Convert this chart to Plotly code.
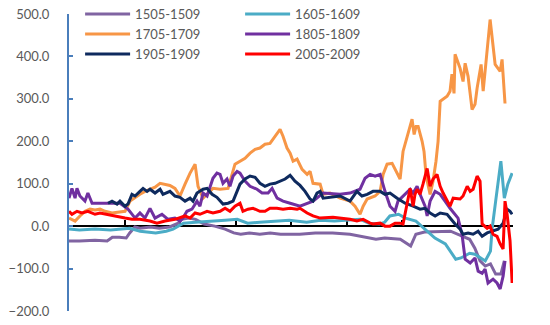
import plotly.graph_objects as go

# Weekly index (0-256) and cumulative change for each five-year window
weeks_1505 = [0, 6, 15, 22, 25, 29, 33, 35, 38, 41, 47, 52, 58, 63, 65, 69, 73, 78, 84, 90, 95, 99,
              104, 110, 116, 122, 127, 133, 142, 152, 162, 169, 177, 182, 191, 197, 200, 205, 214,
              220, 227, 231, 234, 237, 240, 243, 246, 249, 251]
vals_1505 = [-35, -35, -33, -35, -26, -26, -28, -16, -2, -5, -2, -5, -2, 7, 16, 19, 16, 5, 0, -7, -16,
             -19, -16, -19, -16, -19, -19, -19, -16, -16, -19, -24, -31, -28, -31, -47, -19, -14, -12,
             -12, -24, -31, -52, -82, -94, -89, -113, -113, -82]

weeks_1605 = [0, 6, 15, 24, 35, 41, 50, 56, 60, 66, 73, 81, 90, 97, 103, 110, 120, 127, 137, 145,
              153, 162, 168, 173, 179, 182, 185, 190, 194, 200, 205, 211, 217, 220, 223, 226, 231,
              234, 237, 240, 243, 244, 246, 249, 251, 253, 255.5]
vals_1605 = [-7, -9, -7, -9, -5, -12, -16, -12, -7, 7, 9, 12, 14, 16, 7, 9, 12, 14, 9, 14, 12, 14, 16,
             7, 5, 9, 24, 28, 19, 12, -7, -28, -42, -59, -78, -75, -64, -66, -75, -82, -59, -5, 59,
             153, 66, 99, 125]

weeks_1705 = [0, 3.5, 6.3, 9.2, 12.1, 15, 17.9, 20.8, 24.8, 29.4, 32.3, 35.2, 38.1, 40.9, 43.8, 46.7,
              49.6, 52.5, 55.4, 58.2, 61.1, 64, 66.9, 69.8, 72.7, 74.4, 77.3, 79.6, 83, 87.1, 91.7,
              95.7, 98.6, 101.5, 104.4, 107.3, 110.1, 113, 115.9, 118.8, 120.5, 121.7, 123.4, 125.7,
              127.5, 129.2, 131.5, 134.4, 137.3, 139, 140.7, 144.8, 146.5, 150.5, 156.3, 162, 164.9,
              167.8, 169.6, 171.9, 176.5, 179.4, 181.1, 183.4, 186.3, 189.2, 190.9, 192.6, 194.9,
              197.8, 199, 200.1, 201.3, 203.6, 204.7, 205.9, 208.2, 209.9, 211.6, 212.8, 214, 218,
              219.7, 220.8, 222, 222.6, 225.5, 227.2, 228.4, 230.1, 232.4, 234.1, 235.3, 236.4, 237.6,
              238.8, 240.5, 242.8, 245.7, 248.6, 249.7, 250.3, 251.4]
vals_1705 = [19, 12, 24, 35, 40, 38, 40, 35, 31, 33, 35, 59, 68, 75, 82, 87, 92, 101, 99, 96, 89, 71,
             99, 125, 146, 94, 66, 75, 89, 87, 89, 146, 153, 160, 172, 181, 184, 193, 195, 212, 224,
             228, 212, 184, 172, 153, 158, 134, 122, 129, 101, 99, 75, 78, 66, 59, 47, 28, 47, 64, 71,
             82, 122, 146, 148, 125, 111, 176, 207, 252, 216, 235, 235, 200, 176, 118, 75, 106, 153,
             200, 294, 306, 318, 358, 313, 405, 372, 341, 384, 353, 275, 287, 325, 348, 381, 318, 388,
             487, 381, 365, 393, 358, 289]

weeks_1805 = [0, 1.7, 3.5, 4.6, 6.3, 9.2, 10.9, 13.3, 17.9, 23.6, 29.4, 34, 38.1, 40.9, 43.8, 46.7,
              49.6, 53.6, 57.1, 61.1, 64, 65.7, 68, 70.9, 73.8, 75.5, 77.3, 79.6, 81.3, 83, 85.3,
              87.1, 88.8, 91.1, 92.8, 94.6, 96.9, 98.6, 101.5, 104.4, 108.4, 111.3, 114.8, 117.1, 120,
              123.4, 127.5, 133.2, 140.7, 146.5, 156.3, 162, 167.8, 170.7, 173.6, 176.5, 179.4, 182.2,
              185.1, 188, 189.7, 193.8, 196.7, 198.4, 200.7, 202.4, 205.3, 206.5, 208.2, 211.1, 214,
              216.8, 219.7, 224.3, 226.6, 228.4, 231.3, 234.1, 235.9, 238.2, 239.9, 241.6, 244.5,
              246.8, 248.6, 250.3, 251.4]
vals_1805 = [66, 89, 66, 89, 71, 59, 78, 54, 54, 54, 54, 40, 19, 31, 19, 42, 19, 28, 16, 19, 12, 19,
             35, 40, 59, 47, 78, 71, 94, 113, 125, 122, 101, 111, 94, 118, 129, 125, 106, 94, 87, 78,
             78, 89, 66, 59, 54, 47, 59, 78, 75, 78, 87, 113, 122, 118, 122, 82, 47, 35, 59, 75, 87,
             78, 94, 75, 47, 24, 59, 82, 75, 59, 42, 19, -19, -78, -87, -75, -106, -111, -101, -134,
             -125, -134, -148, -118, -82]

weeks_1905 = [22.5, 24.8, 27.7, 29.4, 32.3, 34, 36.3, 38.1, 40.9, 42.7, 45, 46.7, 49.6, 52.5, 54.2,
              58.2, 61.1, 64, 66.9, 69.8, 71.5, 73.8, 77.3, 79.6, 82.5, 85.3, 88.8, 91.7, 94.6, 96.9,
              98.6, 101.5, 104.4, 107.3, 110.1, 113, 115.9, 118.8, 121.7, 124.6, 127.5, 130.3, 133.2,
              136.1, 139, 140.7, 143, 144.8, 146.5, 150.5, 156.3, 162, 166, 168.9, 171.9, 175.3,
              179.4, 182.2, 185.1, 189.2, 193.8, 198.4, 202.4, 205.3, 208.2, 211.1, 214, 218, 219.7,
              222.6, 225.5, 227.2, 230.1, 233, 235.9, 238.2, 241.1, 244.5, 247.4, 250.3, 252.6, 254.3,
              255.5]
vals_1905 = [54, 59, 52, 59, 47, 52, 75, 71, 82, 89, 82, 87, 78, 87, 75, 82, 71, 68, 59, 66, 59, 78,
             87, 89, 75, 68, 52, 54, 59, 82, 99, 111, 118, 115, 101, 94, 99, 101, 106, 111, 120, 106,
             96, 82, 64, 59, 78, 82, 66, 68, 71, 59, 82, 71, 75, 82, 82, 75, 78, 66, 54, 47, 40, 42,
             31, 24, 31, 28, 19, 5, -7, -19, -16, -19, -12, -24, -16, -12, -7, 7, 40, 35, 28]

weeks_2005 = [0, 1.7, 4.6, 7.5, 10.9, 15, 17.9, 22.5, 26.5, 32.3, 36.3, 40.9, 46.7, 50.7, 55.4, 61.1,
              66.9, 69.8, 72.7, 75.5, 79.6, 83, 87.1, 90, 92.8, 95.7, 98.6, 100.3, 103.2, 106.1, 110.1,
              113, 115.9, 119.9, 123.4, 127.5, 131.5, 133.2, 137.3, 140.7, 144.8, 152.2, 158, 162,
              166, 169.6, 173.6, 175.3, 179.4, 182.2, 185.1, 188, 190.9, 192.6, 194.9, 196.7, 198.4,
              199.5, 200.7, 202.4, 204.1, 206.5, 208.2, 209.9, 212.2, 214, 215.7, 218, 219.7, 221.5,
              223.8, 225.5, 227.2, 229.6, 231.3, 233, 235.3, 237, 238.2, 241.1, 242.8, 244.5, 246.8,
              248.6, 250.3, 251.4, 252.6, 254.3, 255.5]
vals_2005 = [35, 28, 35, 31, 35, 28, 31, 28, 24, 19, 16, 16, 12, 7, 12, 16, 24, 19, 31, 28, 35, 31, 35,
             42, 35, 47, 54, 35, 40, 42, 35, 35, 42, 42, 40, 42, 40, 42, 31, 24, 19, 21, 19, 16, 12,
             16, 7, 5, 7, 0, 0, 7, 7, 5, 52, 89, 47, 75, 87, 75, 99, 136, 94, 111, 122, 94, 78, 59,
             47, 66, 64, 64, 71, 94, 82, 87, 118, 106, 5, -5, 0, -19, -24, -42, -54, 59, 28, -35, -134]

series = [
    ("1505-1509", weeks_1505, vals_1505, "#8064a2"),
    ("1605-1609", weeks_1605, vals_1605, "#4bacc6"),
    ("1705-1709", weeks_1705, vals_1705, "#f79646"),
    ("1805-1809", weeks_1805, vals_1805, "#7030a0"),
    ("1905-1909", weeks_1905, vals_1905, "#0e2a5e"),
    ("2005-2009", weeks_2005, vals_2005, "#ff0000"),
]

y_ticks = [-200, -100, 0, 100, 200, 300, 400, 500]

fig = go.Figure()
for name, wk, vals, color in series:
    fig.add_trace(go.Scatter(x=wk, y=vals, mode="lines", name=name,
                             line=dict(color=color, width=3)))

font_family = "Lato, 'Open Sans', sans-serif"

fig.update_layout(
    width=550, height=325,
    margin=dict(l=69, r=37, t=14, b=14, autoexpand=False),
    paper_bgcolor="white", plot_bgcolor="white",
    font=dict(family=font_family, size=13, color="#595959"),
    showlegend=True,
    legend=dict(orientation="h", x=0.025, y=1.05, xanchor="left", yanchor="top",
                entrywidth=100, entrywidthmode="pixels", itemwidth=45,
                bgcolor="rgba(0,0,0,0)", font=dict(size=13, color="#595959"),
                tracegroupgap=0),
    xaxis=dict(range=[0, 256], showgrid=False, zeroline=False, showticklabels=False,
               showline=True, linecolor="black", linewidth=2,
               ticks="inside", ticklen=5, tickwidth=2, tickcolor="black",
               tick0=0, dtick=32, anchor="free", position=200 / 700,
               layer="below traces"),
    yaxis=dict(range=[-200, 500], tickvals=y_ticks, tickformat=".1f",
               showgrid=False, zeroline=False,
               showline=True, linecolor="#4a7ebb", linewidth=2,
               ticks="inside", ticklen=4, tickwidth=2, tickcolor="#4a7ebb",
               ticklabelstandoff=15,
               tickfont=dict(family=font_family, size=13, color="#595959")),
)

fig.write_html("out.html")
